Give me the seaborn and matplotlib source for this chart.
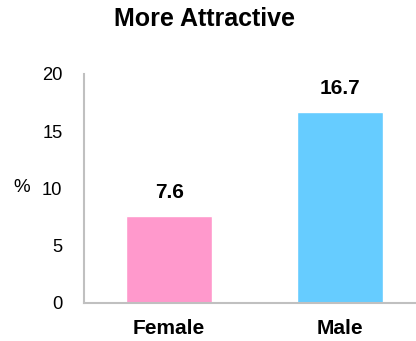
import pandas as pd
import numpy as np
import matplotlib.pyplot as plt
import seaborn as sns

categorias = ['Female', 'Male']
valores = [7.6, 16.7]
colores = ['#FF99CC', '#66CCFF']
ticks_y = [0, 5, 10, 15, 20]

sns.set_style("white")
plt.rcParams['font.family'] = ['Liberation Sans', 'DejaVu Sans']
plt.rcParams['text.color'] = 'black'
plt.rcParams['xtick.color'] = 'black'
plt.rcParams['ytick.color'] = 'black'

fig = plt.figure(figsize=(4.16, 3.41), dpi=100)
ax = fig.add_axes([84/416, 38.5/341, 341/416, 228.5/341])

df = pd.DataFrame({'sexo': categorias, 'pct': valores})
sns.barplot(data=df, x='sexo', y='pct', hue='sexo', palette=colores,
            width=0.505, legend=False, ax=ax, saturation=1)

ax.set_xlim(-0.5, 1.5)
ax.set_ylim(0, 20)
ax.set_yticks(ticks_y)
ax.set_yticklabels([str(t) for t in ticks_y], fontsize=13.2)
ax.set_xticks(range(len(categorias)))
ax.set_xticklabels(categorias, fontsize=15, fontweight='bold')
ax.tick_params(axis='y', length=5, width=1.3, color='#C0C0C0', pad=10.5, direction='out')
ax.tick_params(axis='x', length=0, pad=12)
ax.set_xlabel('')
ax.set_ylabel('')

for s in ['top', 'right']:
    ax.spines[s].set_visible(False)
for s in ['left', 'bottom']:
    ax.spines[s].set_color('#C0C0C0')
    ax.spines[s].set_linewidth(1.5)

for i, v in enumerate(valores):
    ax.annotate(f'{v}', (i, v), xytext=(0, 12.5), textcoords='offset points',
                ha='center', va='baseline', fontsize=15, fontweight='bold')

fig.text(21.5/416, 1 - 188/341, '%', ha='center', va='center', fontsize=13.5)
fig.text(205/416, 1 - 19/341, 'More Attractive', ha='center', va='center',
         fontsize=18, fontweight='bold')

fig.savefig('out.png', dpi=100)
